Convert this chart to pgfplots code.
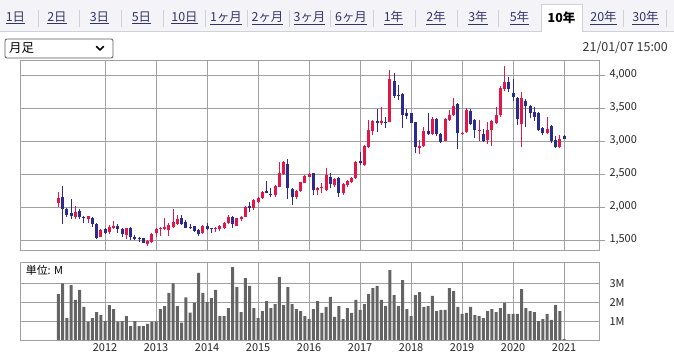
\documentclass[border=0pt]{standalone}
\usepackage{pgfplots}
\usepackage{pgfplotstable}
\pgfplotsset{compat=1.18}
\usepackage{fontspec}
\setmainfont{Noto Sans CJK JP}
\definecolor{upred}{RGB}{226,22,72}
\definecolor{dnblue}{RGB}{43,43,140}
\definecolor{volgray}{RGB}{100,100,100}
\definecolor{gridgray}{RGB}{160,160,160}
\definecolor{tabbg}{RGB}{244,244,248}
\definecolor{tabline}{RGB}{208,208,216}
\definecolor{linkc}{RGB}{51,51,110}

\pgfplotstableread{
i O H L C
0 2056 2222 1995 2131
4 1854 2015 1818 1929
7 1818 1869 1763 1864
10 1550 1662 1540 1651
12 1616 1727 1596 1702
13 1687 1788 1672 1717
16 1576 1687 1510 1682
21 1444 1500 1414 1485
22 1475 1611 1460 1591
23 1601 1687 1550 1667
24 1672 1695 1560 1687
25 1667 1828 1650 1702
26 1652 1752 1566 1727
27 1702 1970 1677 1768
28 1742 1879 1732 1818
34 1601 1722 1591 1712
37 1662 1692 1626 1687
38 1667 1727 1641 1717
39 1677 1773 1662 1763
40 1753 1879 1742 1854
42 1717 1838 1712 1828
43 1813 1869 1793 1854
44 1854 2015 1843 2005
46 1980 2116 1954 2106
47 2081 2156 2066 2141
48 2131 2242 2116 2232
51 2182 2333 2156 2318
52 2308 2687 2298 2510
53 2495 2692 2485 2682
56 2156 2257 2116 2242
57 2242 2384 2232 2374
58 2369 2480 2358 2470
59 2460 2520 2450 2495
61 2257 2308 2182 2293
62 2283 2358 2207 2308
63 2257 2586 2247 2485
65 2333 2434 2308 2424
67 2207 2358 2182 2343
68 2333 2409 2298 2394
69 2384 2460 2358 2444
70 2434 2702 2424 2687
72 2636 2939 2621 2924
73 2904 3318 2889 3167
74 3156 3318 3091 3303
76 3267 3520 3243 3303
78 3293 4076 3283 3939
85 2899 3015 2803 2924
86 2924 3217 2904 3156
88 3106 3358 3091 3338
91 3005 3343 2995 3338
92 3318 3470 3308 3394
93 3394 3646 3379 3535
95 3106 3141 3091 3126
96 3141 3495 3126 3470
99 3156 3318 3005 3167
101 3010 3283 2955 3162
102 3167 3318 2924 3303
103 3267 3520 3257 3394
104 3394 3828 3369 3798
105 3788 4136 3763 3889
109 3257 3747 2904 3656
115 3126 3369 3101 3182
118 2904 3091 2894 3025
}\up

\pgfplotstableread{
i O H L C
1 2157 2318 1747 1965
2 1970 1990 1853 1879
3 1909 2121 1823 1859
5 1944 1970 1818 1843
6 1853 1869 1758 1838
8 1828 1853 1702 1742
9 1747 1763 1515 1535
11 1667 1677 1591 1611
14 1717 1737 1601 1672
15 1672 1682 1550 1591
17 1682 1692 1500 1540
18 1550 1570 1505 1510
19 1535 1550 1475 1515
20 1525 1535 1450 1460
29 1828 1879 1727 1737
30 1778 1803 1677 1687
31 1702 1737 1662 1687
32 1712 1717 1626 1641
33 1652 1662 1560 1591
35 1712 1752 1651 1667
36 1677 1687 1601 1662
41 1854 1864 1687 1737
45 2020 2081 1929 1980
49 2242 2394 2207 2217
50 2197 2283 2146 2182
54 2651 2722 2116 2283
55 2268 2283 2030 2156
60 2510 2520 2182 2257
64 2450 2510 2283 2343
66 2434 2449 2156 2207
71 2702 2838 2636 2661
75 3303 3480 3141 3267
77 3293 3364 3197 3267
79 3914 4035 3647 3682
80 3702 3853 3627 3677
81 3712 3727 3197 3399
82 3419 3480 3328 3379
83 3419 3429 3267 3278
84 3283 3293 2813 2904
87 3156 3419 3091 3101
89 3338 3343 3070 3106
90 3106 3116 2975 2990
94 3560 3570 2874 3116
97 3459 3480 3243 3257
98 3318 3328 3040 3167
100 3106 3177 2990 3005
106 3889 3975 3747 3788
107 3732 3934 3601 3672
108 3646 3672 3247 3328
110 3606 3631 3217 3535
111 3530 3545 3343 3429
112 3444 3520 3308 3369
113 3419 3434 3156 3167
114 3202 3217 3091 3126
116 3232 3243 2975 3005
117 3015 3076 2894 2904
119 3070 3091 3025 3035
}\down

\pgfplotstableread{
i v
0 2.43
1 3.00
2 1.16
3 2.91
4 2.12
5 2.65
6 1.75
7 0.97
8 1.16
9 1.48
10 1.32
11 1.00
12 1.85
13 1.64
14 0.97
15 1.00
16 1.27
17 0.74
18 1.00
19 0.74
20 0.74
21 0.85
22 0.97
23 0.97
24 1.64
25 1.80
26 2.49
27 3.00
28 1.80
29 0.92
30 2.26
31 1.45
32 1.98
33 3.55
34 2.49
35 2.01
36 2.22
37 2.65
38 1.27
39 1.27
40 1.69
41 3.86
42 2.80
43 1.48
44 3.28
45 2.86
46 1.69
47 1.16
48 1.53
49 2.06
50 1.69
51 1.90
52 3.33
53 1.85
54 2.80
55 1.90
56 1.64
57 1.53
58 1.27
59 1.11
60 1.64
61 2.06
62 1.43
63 1.75
64 2.28
65 1.22
66 1.80
67 1.11
68 1.69
69 1.43
70 2.12
71 1.59
72 1.90
73 2.43
74 2.75
75 2.86
76 2.12
77 1.80
78 3.70
79 2.38
80 1.80
81 3.17
82 1.64
83 1.27
84 2.38
85 2.54
86 1.75
87 1.80
88 2.33
89 1.53
90 1.59
91 1.59
92 2.75
93 2.59
94 1.75
95 1.38
96 1.43
97 1.75
98 1.32
99 1.27
100 1.16
101 1.53
102 1.64
103 1.48
104 1.69
105 1.96
106 1.38
107 1.38
108 1.38
109 2.70
110 1.69
111 1.53
112 1.48
113 1.00
114 1.11
115 1.38
116 1.06
117 1.85
118 1.53
119 0.05
}\vol

\pgfplotsset{
  candle/.style 2 args={draw=none, mark=none, forget plot,
    error bars/.cd, y dir=plus, y explicit, error mark=none,
    error bar style={draw=#1, line width=#2, line cap=butt}},
}

\begin{document}
\begin{tikzpicture}[x=1bp,y=1bp]
\useasboundingbox (0,0) rectangle (674,355);
\fill[white] (0,0) rectangle (674,355);
% tab bar
\fill[tabbg] (0,323) rectangle (674,355);
\draw[tabline] (0,323.5) -- (541,323.5);
\draw[tabline] (582,323.5) -- (674,323.5);
\fill[white] (541,323) rectangle (582,351);
\draw[tabline] (541,323.5) -- (541,351) -- (582,351) -- (582,323.5);
\foreach \sx in {37.8,79.5,121.6,163.3,205.4,247.1,288.8,330,373,414.7,456.8,498.5,623.1,666}
  \draw[tabline] (\sx,328) -- (\sx,345);
\foreach \cx/\t in {15.5/1日,57/2日,99.5/3日,141.5/5日,184.5/10日,226/1ヶ月,267.5/2ヶ月,309.5/3ヶ月,351/6ヶ月,393.5/1年,436/2年,478/3年,519.5/5年,603.5/20年,645.5/30年}
  \node[text=linkc, font=\fontsize{12.5}{14}\selectfont, inner sep=0pt] at (\cx,337) {\underline{\t}};
\node[text=black, font=\fontsize{12.5}{14}\selectfont\bfseries, inner sep=0pt] at (561.5,337) {10年};
% dropdown
\draw[rounded corners=2bp, draw=black!65, line width=0.8bp] (5,297) rectangle (113,316);
\node[anchor=west, font=\fontsize{12.5}{14}\selectfont, inner sep=0pt] at (9,306.5) {月足};
\draw[line width=1.6bp, line cap=round, line join=round] (96.5,308.5) -- (100,305) -- (103.5,308.5);
% date
\node[anchor=east, text=black!80, font=\fontsize{12.5}{14}\selectfont, inner sep=0pt] at (668,307.5) {21/01/07 15:00};

% main candle chart
\begin{axis}[
  at={(20bp,105bp)}, anchor=south west, scale only axis,
  width=579bp, height=189.5bp,
  xmin=-9.01, xmax=127.2, ymin=1348.5, ymax=4219.7,
  xtick={11,23,35,47,59,71,83,95,107,119}, xticklabels={},
  ytick={1500,2000,2500,3000,3500,4000},
  ytick pos=right, yticklabel pos=right,
  grid=major, grid style={gridgray, line width=0.8bp},
  axis line style={gridgray, line width=0.8bp},
  tick align=outside, major tick length=6bp,
  x tick style={draw=none},
  y tick style={gridgray, line width=0.8bp},
  tick label style={font=\fontsize{11}{13}\selectfont, text=black!85},
  yticklabel style={xshift=1bp},
  /pgf/number format/assume math mode=true,
  /pgf/number format/1000 sep={,},
  scaled y ticks=false,
]
\addplot[candle={upred}{1bp}]
  table[x=i, y=L, y error expr=\thisrow{H}-\thisrow{L}] {\up};
\addplot[candle={upred}{3bp}]
  table[x=i, y=O, y error expr=\thisrow{C}-\thisrow{O}] {\up};
\addplot[candle={dnblue}{1bp}]
  table[x=i, y=L, y error expr=\thisrow{H}-\thisrow{L}] {\down};
\addplot[candle={dnblue}{3bp}]
  table[x=i, y=C, y error expr=\thisrow{O}-\thisrow{C}] {\down};
\end{axis}

% volume chart
\begin{axis}[
  at={(20bp,15bp)}, anchor=south west, scale only axis,
  width=579bp, height=78bp,
  xmin=-9.01, xmax=127.2, ymin=0, ymax=4.13,
  xtick={11,23,35,47,59,71,83,95,107,119},
  xticklabels={2012,2013,2014,2015,2016,2017,2018,2019,2020,2021},
  ytick={1,2,3}, yticklabels={1M,2M,3M},
  ytick pos=right, yticklabel pos=right,
  grid=major, grid style={gridgray, line width=0.8bp},
  axis line style={gridgray, line width=0.8bp},
  major tick length=0bp,
  tick style={draw=none},
  tick label style={font=\fontsize{11}{13}\selectfont, text=black!85},
  yticklabel style={xshift=7bp},
]
\addplot[ybar, bar width=3bp, fill=volgray, draw=none] table[x=i, y=v] {\vol};
\node[anchor=north west, inner sep=1bp, font=\fontsize{11}{13}\selectfont] at (rel axis cs:0.008,0.97) {単位: M};
\end{axis}
\end{tikzpicture}
\end{document}
